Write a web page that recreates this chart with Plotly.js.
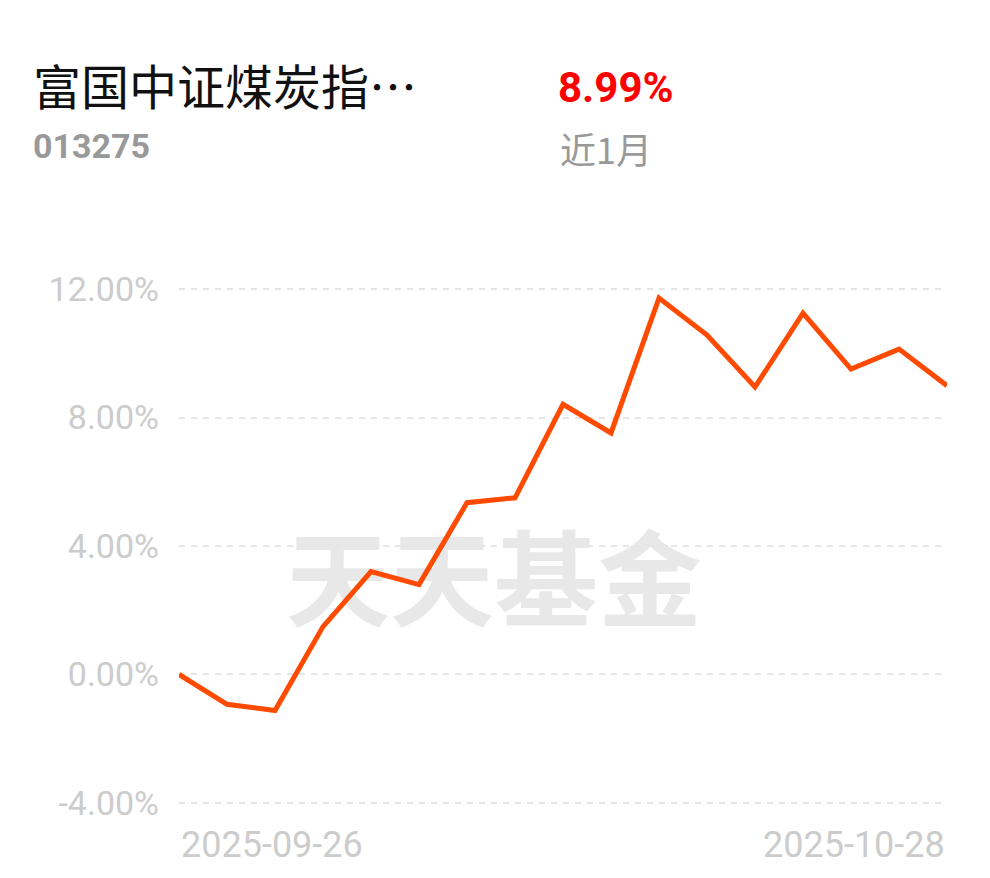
<!DOCTYPE html>
<html>
<head>
<meta charset="utf-8">
<script src="https://cdn.plot.ly/plotly-3.0.1.min.js"></script>
<style>
  html, body { margin: 0; padding: 0; background: #ffffff; }
  #chart { width: 990px; height: 878px; }
</style>
</head>
<body>
<div id="chart"></div>
<script>
// ---- data ----
const fundName = '富国中证煤炭指…';
const fundCode = '013275';
const periodReturn = '8.99%';
const periodLabel = '近1月';
const watermark = '天天基金';
const dates = ['2025-09-26','2025-09-29','2025-09-30','2025-10-09','2025-10-10','2025-10-13','2025-10-14','2025-10-15','2025-10-16','2025-10-17','2025-10-20','2025-10-21','2025-10-22','2025-10-23','2025-10-24','2025-10-27','2025-10-28'];
const returns = [0.00, -0.93, -1.12, 1.49, 3.20, 2.80, 5.35, 5.50, 8.41, 7.52, 11.72, 10.57, 8.95, 11.25, 9.51, 10.13, 8.99];
const yTicks = [-4, 0, 4, 8, 12];
const yTickLabels = ['-4.00%', '0.00%', '4.00%', '8.00%', '12.00%'];

// ---- layout geometry ----
const W = 990, H = 878;
const M = { l: 179, r: 43, t: 273, b: 59 };
const plotW = W - M.l - M.r, plotH = H - M.t - M.b;
const px = x => (x - M.l) / plotW;
const py = y => (H - M.b - y) / plotH;

const trace = {
  type: 'scatter',
  mode: 'lines',
  x: dates,
  y: returns,
  line: { color: '#ff4a00', width: 5, shape: 'linear' },
  hoverinfo: 'skip'
};

const layout = {
  width: W, height: H,
  margin: M,
  paper_bgcolor: '#ffffff',
  plot_bgcolor: '#ffffff',
  showlegend: false,
  font: { family: 'Roboto, "Noto Sans CJK SC", sans-serif' },
  xaxis: {
    type: 'category',
    range: [0, dates.length - 1],
    showgrid: false, zeroline: false, showline: false,
    showticklabels: false, ticks: '', fixedrange: true
  },
  yaxis: {
    range: [-4.5, 12.5],
    tickmode: 'array',
    tickvals: yTicks,
    ticktext: yTickLabels,
    ticks: '',
    ticklabelstandoff: 19,
    showgrid: true,
    gridcolor: '#e6e6e6',
    gridwidth: 2,
    griddash: '6px,6px',
    zeroline: false, showline: false,
    tickfont: { family: 'Roboto, sans-serif', size: 34, color: '#cccccc' },
    fixedrange: true
  },
  shapes: [{
    type: 'rect', layer: 'between',
    xref: 'paper', yref: 'paper',
    x0: px(494) - 0.3, x1: px(494) + 0.3,
    y0: py(590) - 0.1, y1: py(590) + 0.1,
    line: { width: 0 }, fillcolor: 'rgba(0,0,0,0)',
    label: {
      text: watermark,
      textposition: 'middle center',
      font: { family: '"Noto Sans CJK SC", sans-serif', size: 104, color: '#e8e8e8', weight: 'bold' }
    }
  }],
  annotations: [
    { text: fundName, xref: 'paper', yref: 'paper', x: px(31), y: py(84), xanchor: 'left', yanchor: 'middle', showarrow: false,
      font: { family: '"Noto Sans CJK SC", sans-serif', size: 48, color: '#111111' } },
    { text: '<b>' + fundCode + '</b>', xref: 'paper', yref: 'paper', x: px(31), y: py(146), xanchor: 'left', yanchor: 'middle', showarrow: false,
      font: { family: 'Roboto, sans-serif', size: 34, color: '#999999' } },
    { text: '<b>' + periodReturn + '</b>', xref: 'paper', yref: 'paper', x: px(556), y: py(87), xanchor: 'left', yanchor: 'middle', showarrow: false,
      font: { family: 'Roboto, sans-serif', size: 42, color: '#ff0000' } },
    { text: periodLabel, xref: 'paper', yref: 'paper', x: px(558), y: py(148), xanchor: 'left', yanchor: 'middle', showarrow: false,
      font: { family: '"Noto Sans CJK SC", sans-serif', size: 36, color: '#999999' } },
    { text: dates[0], xref: 'x', yref: 'paper', x: dates[0], y: py(845), xanchor: 'left', yanchor: 'middle', showarrow: false,
      font: { family: 'Roboto, sans-serif', size: 36, color: '#cccccc' } },
    { text: dates[dates.length - 1], xref: 'x', yref: 'paper', x: dates[dates.length - 1], y: py(845), xanchor: 'right', yanchor: 'middle', showarrow: false,
      font: { family: 'Roboto, sans-serif', size: 36, color: '#cccccc' } }
  ]
};

Plotly.newPlot('chart', [trace], layout, { displayModeBar: false, staticPlot: true });
</script>
</body>
</html>
